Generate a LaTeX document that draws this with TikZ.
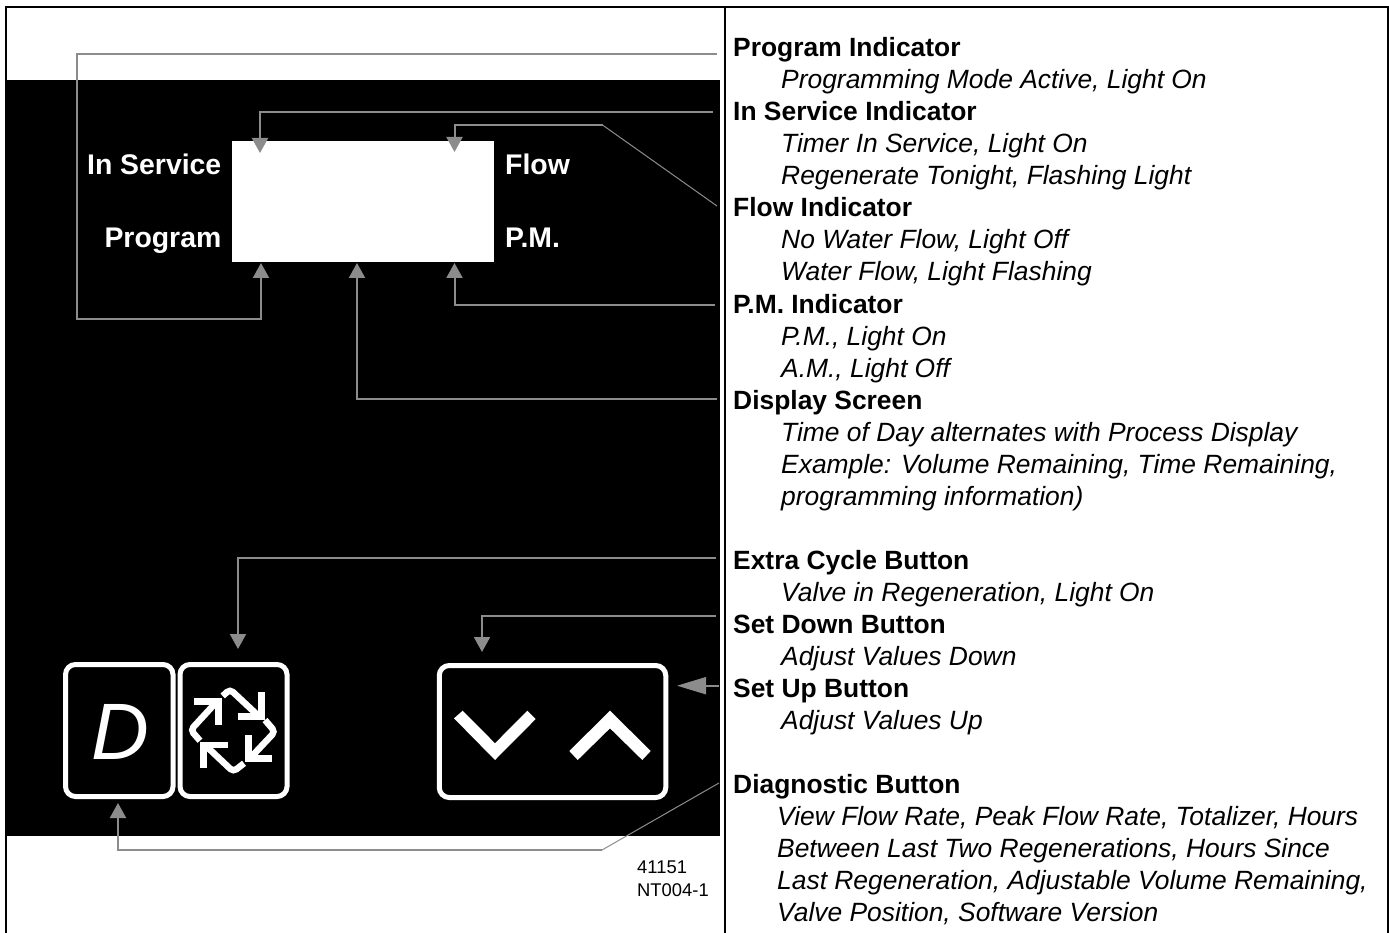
\documentclass[tikz,border=0pt]{standalone}
\usepackage{fontspec}
\setmainfont{Liberation Sans}
\usetikzlibrary{arrows.meta}
\usetikzlibrary{positioning}

\begin{document}
\begin{tikzpicture}[x=1pt, y=-1pt,
    leader/.style={draw=gray!90, line width=2pt, -{Triangle[length=15pt, width=16pt]}},
    thinleg/.style={draw=gray!90, line width=1pt},
    head/.style={anchor=base west, font=\fontsize{26.4}{32}\selectfont\bfseries, inner sep=0pt},
    note/.style={anchor=base west, font=\fontsize{26.4}{32}\selectfont\itshape, inner sep=0pt},
    panel/.style={font=\fontsize{28.4}{32}\selectfont\bfseries, text=white, inner sep=0pt},
    fascia/.style={draw=white, line width=5pt, rounded corners=10pt, inner sep=0pt},
    glyph/.style={draw=white, line width=6.5pt, line join=miter}]
        \useasboundingbox (0,0) rectangle (1389,933);

        % Draw the black panel and the frame
        \fill[black] (6,80) rectangle (720,836);
        \draw[line width=2.5pt] (6,933) -- (6,7) -- (1388,7) -- (1388,933);
        \draw[line width=2.5pt] (725,7) -- (725,933);

        % Draw the screen and the buttons
        \node[fill=white, minimum width=262pt, minimum height=121pt, inner sep=0pt] (screen) at (362.75,202) {};
        \node[fascia, minimum width=107.5pt, minimum height=132pt] (diag) at (119.25,730.5) {};
        \node[fascia, minimum width=107pt, minimum height=132pt] (cycle) at (233.5,730.5) {};
        \node[fascia, minimum width=226.5pt, minimum height=132pt] (updown) at (552.5,731.5) {};

        \node[anchor=base, inner sep=0pt, text=white, font=\fontsize{80}{80}\selectfont\itshape] (dlabel) at (120,759) {D};

        % Draw the labels of the panel
        \node[panel, anchor=base east] (lservice) at (221.5,174.5) {In Service};
        \node[panel, anchor=base east] (lprogram) at (221.5,247.5) {Program};
        \node[panel, anchor=base west] (lflow) at (505,174.5) {Flow};
        \node[panel, anchor=base west] (lpm) at (505,247.5) {P.M.};

        % Draw the two chevrons
        \fill[white] (454,718.3) -- (462.7,710.7) -- (495,743.3) -- (527.3,710.7) -- (535.7,719) -- (495,760) -- cycle;
        \fill[white] (569.3,751) -- (610,710.7) -- (650.7,751) -- (642.3,760) -- (610,728.3) -- (577.7,760) -- cycle;

        % Draw the four arrows of the cycle symbol
        \draw[glyph, rounded corners=4pt] (222.7,696) -- (230,689.3) -- (259.3,716.7);
        \draw[glyph] (261.7,691.7) -- (261.7,716.7) -- (238.3,716.7);
        \draw[glyph, rounded corners=4pt] (265,720) -- (275,731.7) -- (250,758.3);
        \draw[glyph] (248.3,735) -- (248.3,758.3) -- (271.7,758.3);
        \draw[glyph, rounded corners=4pt] (244,763.3) -- (233.3,771.7) -- (205,745);
        \draw[glyph] (228.3,745) -- (203.3,745) -- (203.3,768.3);
        \draw[glyph, rounded corners=4pt] (200,740.7) -- (190.7,730) -- (216.7,701.7);
        \draw[glyph] (194,701.7) -- (218.3,701.7) -- (218.3,725);

        % Place the text of the right column
        \foreach \name/\y/\txt in {hprogram/57/Program Indicator, hservice/121/In Service Indicator, hflow/217/Flow Indicator, hpm/313/P.M. Indicator, hscreen/409/Display Screen, hextra/569/Extra Cycle Button, hdown/633/Set Down Button, hup/697/Set Up Button, hdiag/793/Diagnostic Button}
        {
          \node[head] (\name) at (733,\y) {\txt};
        }
        \foreach \name/\y/\txt in {n1/89/{Programming Mode Active, Light On}, n2/153/{Timer In Service, Light On}, n3/185/{Regenerate Tonight, Flashing Light}, n4/249/{No Water Flow, Light Off}, n5/281/{Water Flow, Light Flashing}, n6/345/{P.M., Light On}, n7/377/{A.M., Light Off}, n8/441/{Time of Day alternates with Process Display}, n9/473/{Example: Volume Remaining, Time Remaining,}, n10/505/{programming information)}, n11/601/{Valve in Regeneration, Light On}, n12/665/{Adjust Values Down}, n13/729/{Adjust Values Up}}
        {
          \node[note] (\name) at (781,\y) {\txt};
        }
        \foreach \name/\y/\txt in {n14/825/{View Flow Rate, Peak Flow Rate, Totalizer, Hours}, n15/857/{Between Last Two Regenerations, Hours Since}, n16/889/{Last Regeneration, Adjustable Volume Remaining,}, n17/921/{Valve Position, Software Version}}
        {
          \node[note] (\name) at (777,\y) {\txt};
        }

        \node[anchor=base west, inner sep=0pt, font=\fontsize{18.4}{20}\selectfont] (num1) at (637,873.5) {41151};
        \node[anchor=base west, inner sep=0pt, font=\fontsize{18.4}{20}\selectfont] (num2) at (637,896) {NT004-1};

        % Free ends of the leaders and the points they run to
        \coordinate (a1) at (717,54);
        \coordinate (b1) at (261,263);
        \coordinate (a2) at (713,112);
        \coordinate (b2) at (260,153);
        \coordinate (a3) at (717,206);
        \coordinate (b3) at (454.5,152);
        \coordinate (a4) at (715,305);
        \coordinate (b4) at (454.5,263);
        \coordinate (a5) at (717,399);
        \coordinate (b5) at (357,263);
        \coordinate (a6) at (716,558);
        \coordinate (b6) at (238,649);
        \coordinate (a7) at (716,616);
        \coordinate (b7) at (482,652);
        \coordinate (a8) at (719,685.7);
        \coordinate (b8) at (677,685.7);
        \coordinate (a9) at (719,783);
        \coordinate (b9) at (118,803);

        % Draw the leaders
        \draw[leader] (a1) -- (76.5,54) -- (76.5,319) -- (261,319) -- (b1);
        \draw[leader] (a2) -- (260,112) -- (b2);
        \draw[thinleg] (a3) -- (602.5,125);
        \draw[leader] (602.5,125) -- (454.5,125) -- (b3);
        \draw[leader] (a4) -- (454.5,305) -- (b4);
        \draw[leader] (a5) -- (357,399) -- (b5);
        \draw[leader] (a6) -- (238,558) -- (b6);
        \draw[leader] (a7) -- (482,616) -- (b7);
        \draw[leader, -{Triangle[length=29pt, width=17pt]}] (a8) -- (b8);
        \draw[thinleg] (a9) -- (602,850);
        \draw[leader] (602,850) -- (118,850) -- (b9);
      \end{tikzpicture}
\end{document}
